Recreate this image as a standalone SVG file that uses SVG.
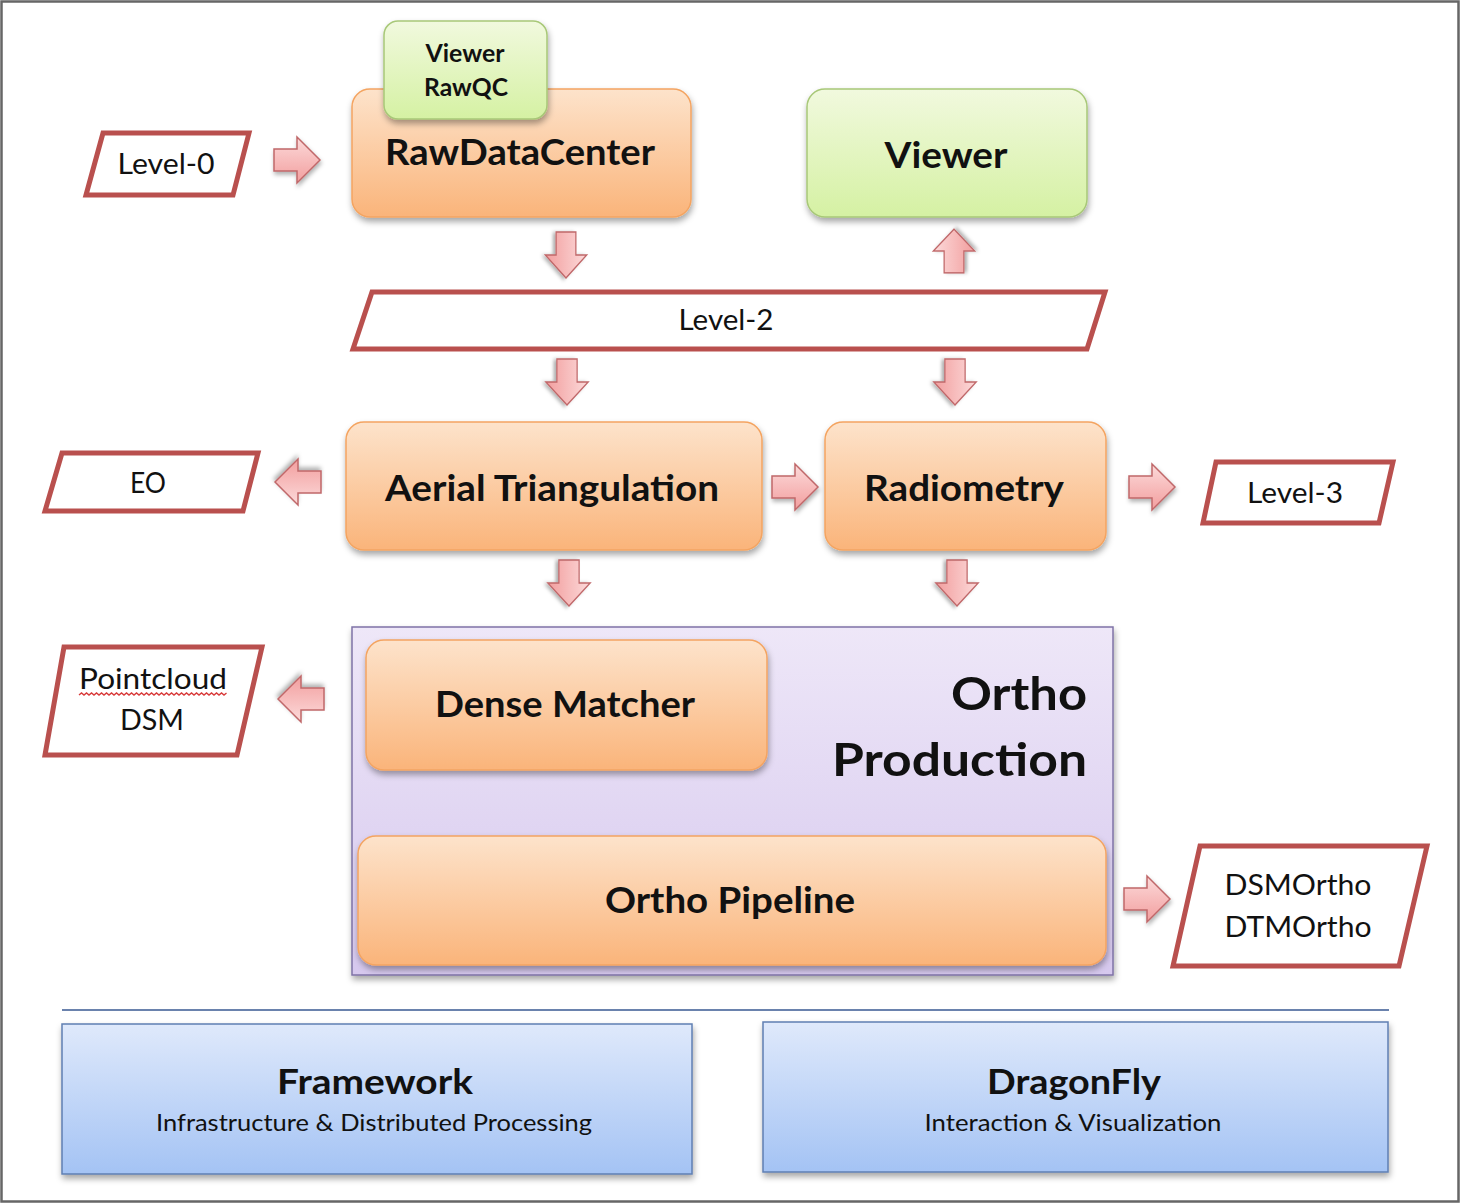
<svg xmlns="http://www.w3.org/2000/svg" width="1461" height="1204" viewBox="0 0 1461 1204">
<defs>
<linearGradient id="gOrange" x1="0" y1="0" x2="0" y2="1"><stop offset="0" stop-color="#fde3cb"/><stop offset="1" stop-color="#fab47a"/></linearGradient>
<linearGradient id="gGreen" x1="0" y1="0" x2="0" y2="1"><stop offset="0" stop-color="#f1f9de"/><stop offset="1" stop-color="#d5f1a3"/></linearGradient>
<linearGradient id="gBlue" x1="0" y1="0" x2="0" y2="1"><stop offset="0" stop-color="#dfe9fb"/><stop offset="1" stop-color="#a4c3f4"/></linearGradient>
<linearGradient id="gPurple" x1="0" y1="0" x2="0" y2="1"><stop offset="0" stop-color="#eee7f8"/><stop offset="1" stop-color="#d6c8ee"/></linearGradient>
<linearGradient id="gPink" x1="0" y1="0" x2="0" y2="1"><stop offset="0" stop-color="#fcdada"/><stop offset="1" stop-color="#f29e9e"/></linearGradient>
<filter id="sh" x="-10%" y="-10%" width="125%" height="135%"><feDropShadow dx="1" dy="4" stdDeviation="3" flood-color="#000" flood-opacity="0.35"/></filter>
<filter id="shA" x="-30%" y="-30%" width="170%" height="170%"><feDropShadow dx="1" dy="3" stdDeviation="2" flood-color="#000" flood-opacity="0.3"/></filter>
<path id="arr" d="M-23,-11 L0,-11 L0,-23 L23,0 L0,23 L0,11 L-23,11 Z"/>
<style>
.t{font-family:Lato,"Liberation Sans",sans-serif;fill:#111;text-anchor:middle}
.b{font-weight:bold}
.orange{fill:url(#gOrange);stroke:#f4a461;stroke-width:1.5;filter:url(#sh)}
.green{fill:url(#gGreen);stroke:#a8c878;stroke-width:1.5;filter:url(#sh)}
.blue{fill:url(#gBlue);stroke:#5f7fb3;stroke-width:1.5;filter:url(#sh)}
.purple{fill:url(#gPurple);stroke:#7f73a6;stroke-width:1.5;filter:url(#sh)}
.para{fill:#fff;stroke:#b9504e;stroke-width:5;stroke-linejoin:miter}
.arrow{fill:url(#gPink);stroke:#c0686a;stroke-width:1.5;filter:url(#shA)}
</style>
</defs>
<rect x="0" y="0" width="1461" height="1204" fill="#fff"/>
<rect x="1.5" y="1.5" width="1457" height="1200" fill="none" stroke="#666" stroke-width="2.5"/>

<g id="connectors">
<use href="#arr" class="arrow" transform="translate(297,160)"/>
<use href="#arr" class="arrow" transform="translate(566,255) scale(0.9,1) rotate(90)"/>
<use href="#arr" class="arrow" transform="translate(954,251) scale(0.9,0.95) rotate(-90)"/>
<use href="#arr" class="arrow" transform="translate(567,382) scale(0.92,1) rotate(90)"/>
<use href="#arr" class="arrow" transform="translate(955,382) scale(0.92,1) rotate(90)"/>
<use href="#arr" class="arrow" transform="translate(298,482) rotate(180)"/>
<use href="#arr" class="arrow" transform="translate(795,487)"/>
<use href="#arr" class="arrow" transform="translate(1152,487)"/>
<use href="#arr" class="arrow" transform="translate(569,583) scale(0.92,1) rotate(90)"/>
<use href="#arr" class="arrow" transform="translate(957,583) scale(0.92,1) rotate(90)"/>
<use href="#arr" class="arrow" transform="translate(301,699) rotate(180)"/>
<use href="#arr" class="arrow" transform="translate(568,800) scale(0.88,1) rotate(90)"/>
<use href="#arr" class="arrow" transform="translate(1147,899)"/>
</g>

<g id="level0">
<polygon class="para" points="103,133 249,133 233,195 86,195"/>
<text class="t" x="166" y="174" font-size="28" textLength="97" lengthAdjust="spacingAndGlyphs">Level-0</text>
</g>

<g id="rawdatacenter">
<rect class="orange" x="352" y="89" width="339" height="128" rx="18"/>
<text class="t b" x="520" y="165" font-size="36" textLength="270" lengthAdjust="spacingAndGlyphs">RawDataCenter</text>
</g>

<g id="viewer-rawqc">
<rect class="green" x="384" y="21" width="163" height="98" rx="14"/>
<text class="t b" x="465" y="62" font-size="25" textLength="79" lengthAdjust="spacingAndGlyphs">Viewer</text>
<text class="t b" x="466" y="96" font-size="25" textLength="84" lengthAdjust="spacingAndGlyphs">RawQC</text>
</g>

<g id="viewer">
<rect class="green" x="807" y="89" width="280" height="128" rx="18"/>
<text class="t b" x="946" y="168" font-size="36" textLength="123" lengthAdjust="spacingAndGlyphs">Viewer</text>
</g>

<g id="level2">
<polygon class="para" points="372,292 1105,292 1087,349 353,349"/>
<text class="t" x="726" y="330" font-size="28" textLength="95" lengthAdjust="spacingAndGlyphs">Level-2</text>
</g>

<g id="eo">
<polygon class="para" points="62,453 258,453 243,511 45,511"/>
<text class="t" x="148" y="493" font-size="28" textLength="36" lengthAdjust="spacingAndGlyphs">EO</text>
</g>

<g id="aerial-triangulation">
<rect class="orange" x="346" y="422" width="416" height="128" rx="18"/>
<text class="t b" x="552" y="501" font-size="36" textLength="334" lengthAdjust="spacingAndGlyphs">Aerial Triangulation</text>
</g>

<g id="radiometry">
<rect class="orange" x="825" y="422" width="281" height="128" rx="18"/>
<text class="t b" x="964" y="501" font-size="36" textLength="200" lengthAdjust="spacingAndGlyphs">Radiometry</text>
</g>

<g id="level3">
<polygon class="para" points="1216,462 1393,462 1379,523 1203,523"/>
<text class="t" x="1295" y="503" font-size="28" textLength="96" lengthAdjust="spacingAndGlyphs">Level-3</text>
</g>

<g id="ortho-production">
<rect class="purple" x="352" y="627" width="761" height="348"/>
<text class="t b" x="1087" y="710" font-size="46" style="text-anchor:end" textLength="136" lengthAdjust="spacingAndGlyphs">Ortho</text>
<text class="t b" x="1087" y="776" font-size="46" style="text-anchor:end" textLength="255" lengthAdjust="spacingAndGlyphs">Production</text>
</g>

<g id="dense-matcher">
<rect class="orange" x="366" y="640" width="401" height="130" rx="18"/>
<text class="t b" x="565" y="717" font-size="36" textLength="260" lengthAdjust="spacingAndGlyphs">Dense Matcher</text>
</g>

<g id="ortho-pipeline">
<rect class="orange" x="358" y="836" width="748" height="129" rx="18"/>
<text class="t b" x="730" y="913" font-size="36" textLength="250" lengthAdjust="spacingAndGlyphs">Ortho Pipeline</text>
</g>

<g id="pointcloud-dsm">
<polygon class="para" points="64,647 262,647 237,755 45,755"/>
<text class="t" x="153" y="689" font-size="28" textLength="148" lengthAdjust="spacingAndGlyphs">Pointcloud</text>
<path d="M79,695 l2.5,-2 l2.5,2 l2.5,-2 l2.5,2 l2.5,-2 l2.5,2 l2.5,-2 l2.5,2 l2.5,-2 l2.5,2 l2.5,-2 l2.5,2 l2.5,-2 l2.5,2 l2.5,-2 l2.5,2 l2.5,-2 l2.5,2 l2.5,-2 l2.5,2 l2.5,-2 l2.5,2 l2.5,-2 l2.5,2 l2.5,-2 l2.5,2 l2.5,-2 l2.5,2 l2.5,-2 l2.5,2 l2.5,-2 l2.5,2 l2.5,-2 l2.5,2 l2.5,-2 l2.5,2 l2.5,-2 l2.5,2 l2.5,-2 l2.5,2 l2.5,-2 l2.5,2 l2.5,-2 l2.5,2 l2.5,-2 l2.5,2 l2.5,-2 l2.5,2 l2.5,-2 l2.5,2 l2.5,-2 l2.5,2 l2.5,-2 l2.5,2 l2.5,-2 l2.5,2 l2.5,-2 l2.5,2 l2.5,-2" fill="none" stroke="#d83a3a" stroke-width="1.4"/>
<text class="t" x="152" y="730" font-size="28" textLength="64" lengthAdjust="spacingAndGlyphs">DSM</text>
</g>

<g id="dsmortho-dtmortho">
<polygon class="para" points="1200,846 1427,846 1399,966 1173,966"/>
<text class="t" x="1298" y="895" font-size="28" textLength="147" lengthAdjust="spacingAndGlyphs">DSMOrtho</text>
<text class="t" x="1298" y="937" font-size="28" textLength="147" lengthAdjust="spacingAndGlyphs">DTMOrtho</text>
</g>

<g id="separator">
<line x1="62" y1="1010" x2="1389" y2="1010" stroke="#6a82ad" stroke-width="2"/>
</g>

<g id="framework">
<rect class="blue" x="62" y="1024" width="630" height="150"/>
<text class="t b" x="375" y="1094" font-size="34" textLength="196" lengthAdjust="spacingAndGlyphs">Framework</text>
<text class="t" x="374" y="1131" font-size="24" textLength="436" lengthAdjust="spacingAndGlyphs">Infrastructure &amp; Distributed Processing</text>
</g>

<g id="dragonfly">
<rect class="blue" x="763" y="1022" width="625" height="150"/>
<text class="t b" x="1074" y="1094" font-size="34" textLength="174" lengthAdjust="spacingAndGlyphs">DragonFly</text>
<text class="t" x="1073" y="1131" font-size="24" textLength="297" lengthAdjust="spacingAndGlyphs">Interaction &amp; Visualization</text>
</g>
</svg>
